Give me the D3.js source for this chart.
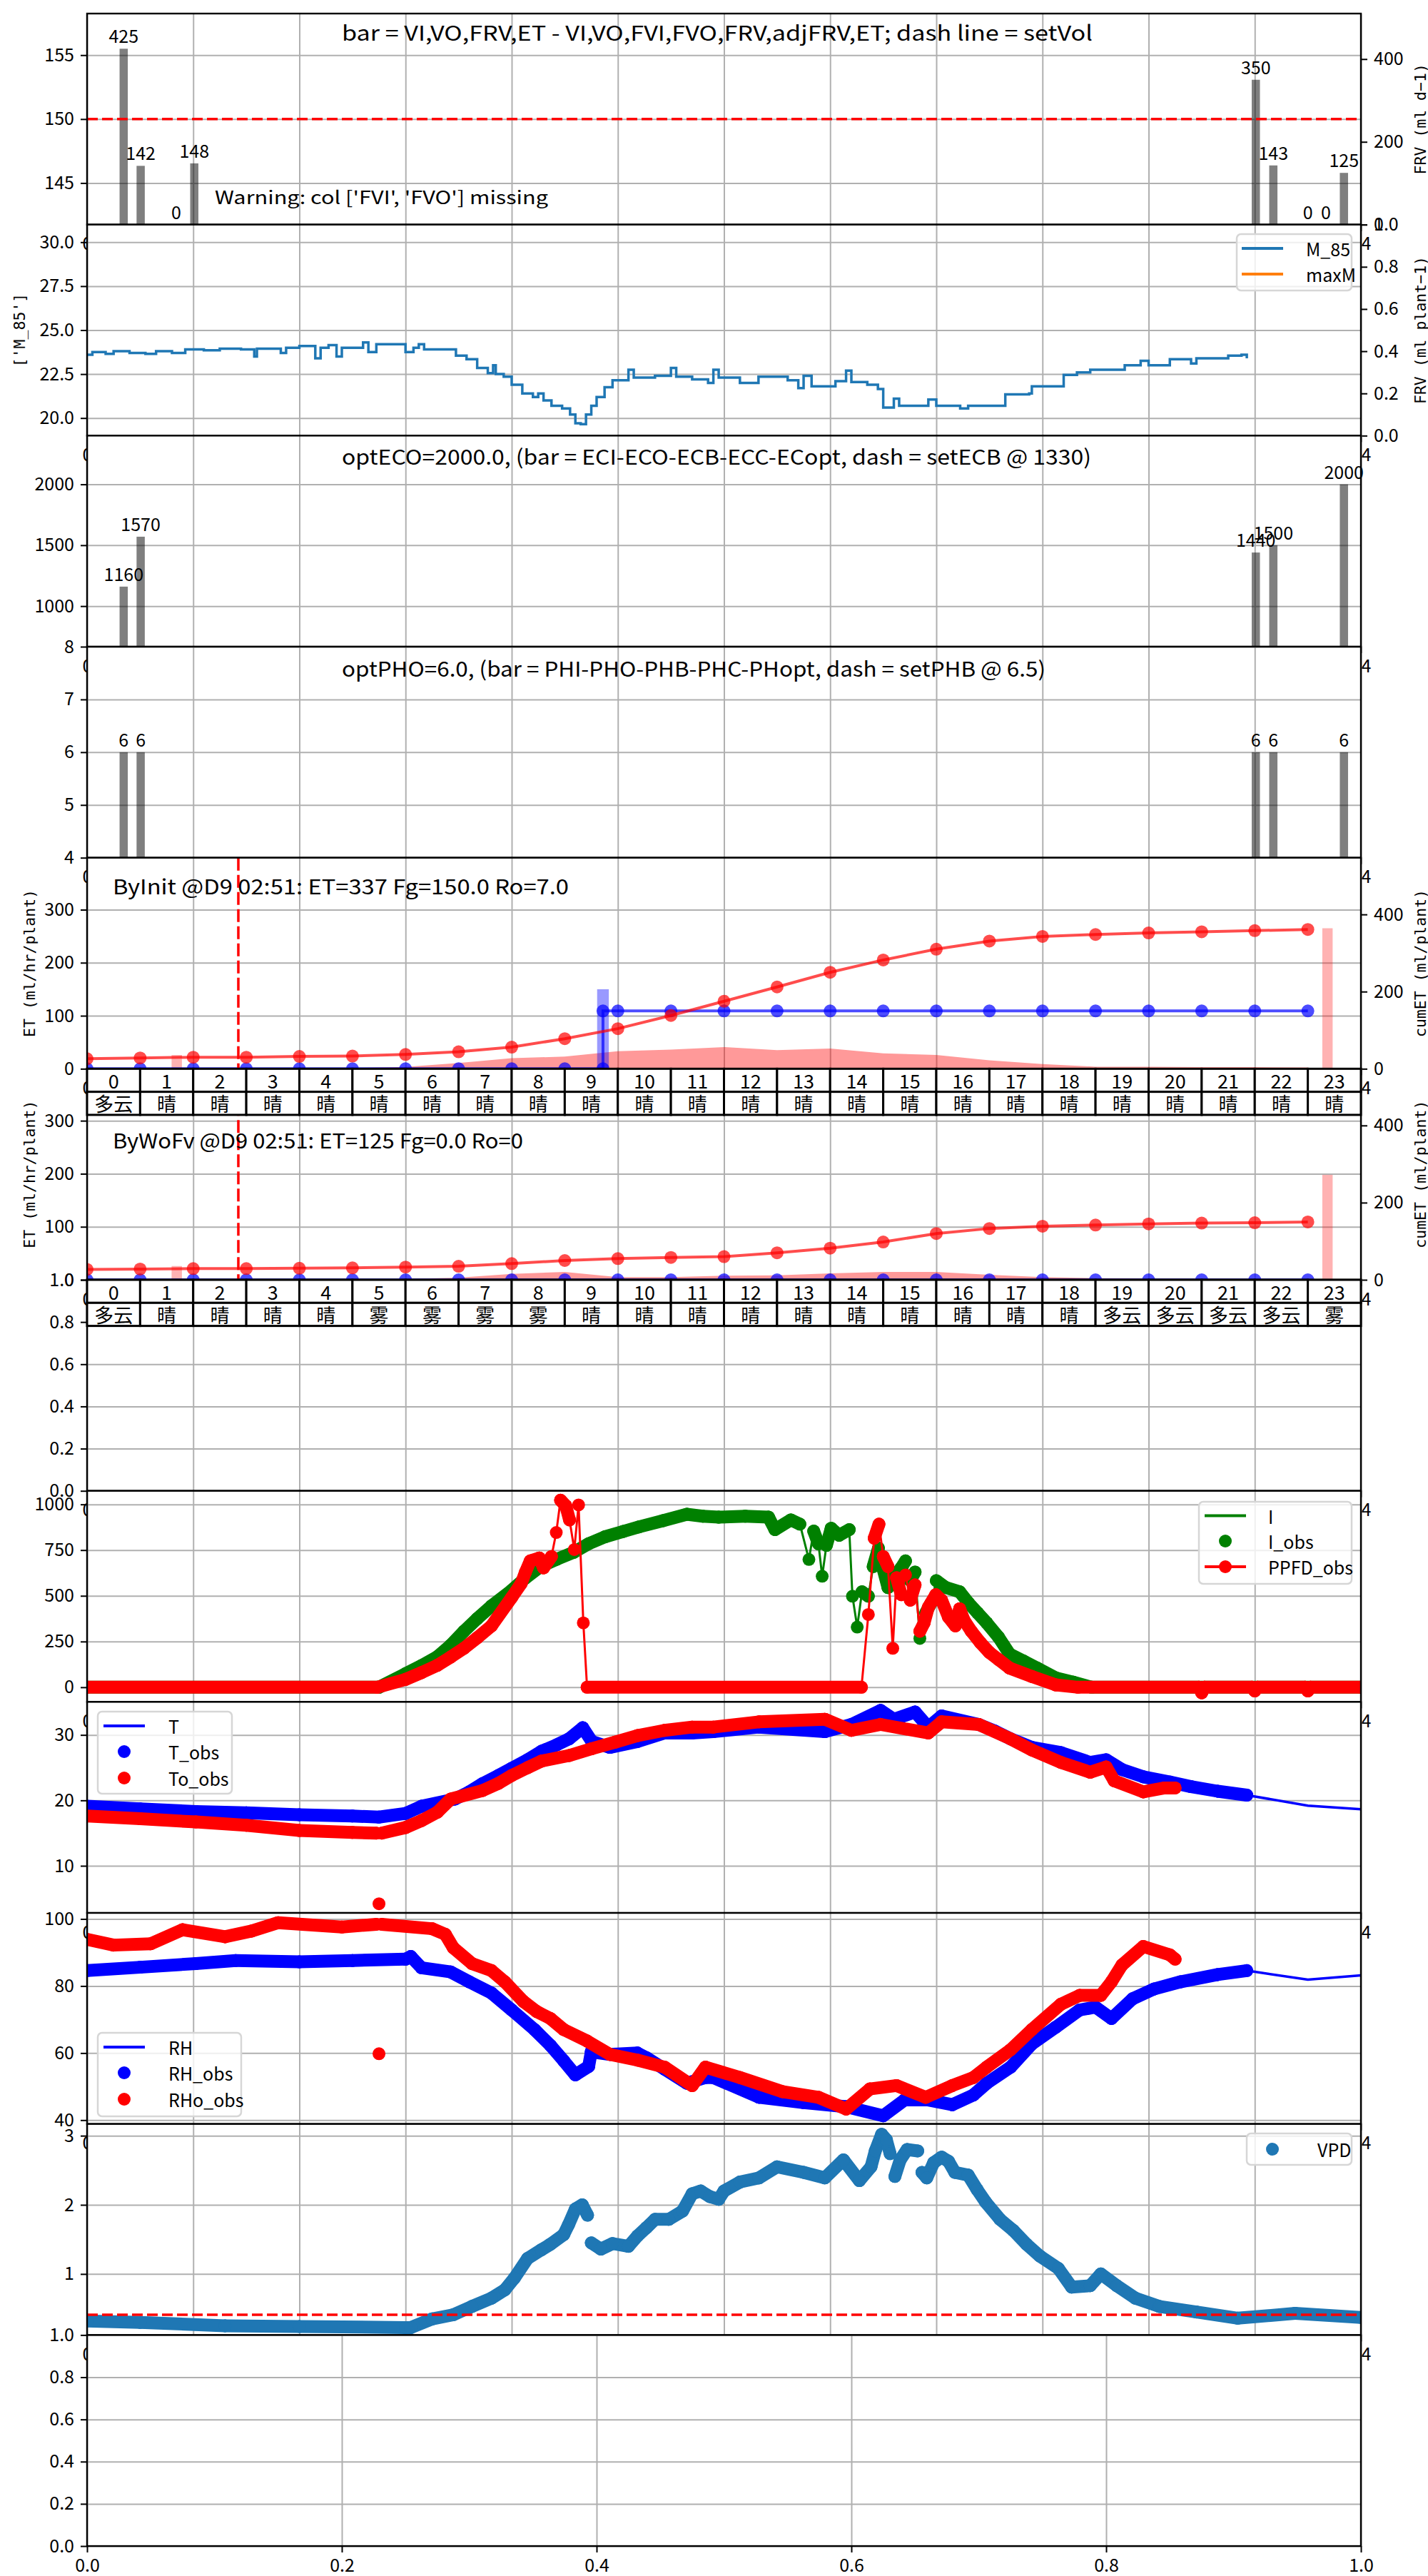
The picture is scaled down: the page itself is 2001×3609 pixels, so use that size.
<!DOCTYPE html>
<html>
<head>
<meta charset="utf-8">
<script src="https://cdn.jsdelivr.net/npm/d3@7"></script>
<style>
  body { margin: 0; background: #fff; }
</style>
</head>
<body>
<script>
// ---------- data ----------
const hourLabels = d3.range(24);

// panel 1 : FRV bars (right axis), setVol dash (left axis)
const frvT = [0.69, 1.01, 1.68, 2.02, 22.02, 22.35, 23.0, 23.34, 23.68];
const frvV = [425, 142, 0, 148, 350, 143, 0, 0, 125];
const setVol = 150;

// panel 2 : M_85
const m85 = [
  [0,23.6],[0.1,23.75],[0.35,23.65],[0.5,23.8],[0.8,23.7],[1.1,23.65],[1.3,23.8],[1.6,23.7],
  [1.85,23.9],[2.2,23.85],[2.5,23.95],[2.9,23.9],[3.15,23.5],[3.2,23.95],[3.6,23.95],[3.65,23.7],
  [3.75,24.0],[4.0,24.1],[4.3,23.4],[4.4,24.0],[4.55,24.15],[4.7,23.5],[4.8,24.0],[5.1,24.0],
  [5.2,24.3],[5.3,23.75],[5.45,24.2],[5.85,24.2],[6.0,23.75],[6.15,24.0],[6.25,24.2],[6.35,23.9],
  [6.9,23.9],[6.95,23.55],[7.15,23.35],[7.35,22.85],[7.55,22.55],[7.65,23.0],[7.7,22.5],[7.85,22.35],
  [8.0,21.9],[8.2,21.4],[8.4,21.2],[8.5,21.4],[8.6,21.0],[8.75,20.7],[8.95,20.55],[9.1,20.2],
  [9.2,19.7],[9.3,19.65],[9.4,20.2],[9.5,20.7],[9.6,21.2],[9.75,21.75],[9.9,22.15],[10.15,22.15],
  [10.2,22.75],[10.3,22.3],[10.7,22.4],[11.0,22.85],[11.1,22.35],[11.4,22.2],[11.7,22.0],[11.8,22.75],
  [11.9,22.3],[12.3,22.0],[12.65,22.35],[13.2,22.15],[13.4,21.7],[13.5,22.4],[13.65,21.8],[14.1,22.1],
  [14.3,22.7],[14.4,22.05],[14.7,21.9],[14.9,21.65],[15.0,20.6],[15.2,21.1],[15.3,20.7],[15.85,21.05],
  [16.0,20.7],[16.45,20.55],[16.6,20.7],[17.3,21.35],[17.75,21.4],[17.8,21.8],[18.4,22.45],[18.65,22.6],
  [18.9,22.75],[19.55,23.0],[19.85,23.25],[20.0,23.0],[20.4,23.35],[20.8,23.1],[20.9,23.4],[21.5,23.55],
  [21.75,23.6],[21.85,23.4]
];

// panels 3 and 4 : EC / pH bars
const ecoT = [0.69, 1.01, 22.02, 22.35, 23.68];
const ecoV = [1160, 1570, 1440, 1500, 2000];
const phoT = [0.69, 1.01, 22.02, 22.35, 23.68];
const phoV = [6, 6, 6, 6, 6];

// panels 5 and 6 : ET per hour (left), cumulative ET / irrigation (right)
const decisionHour = 2.85;   // 02:51
const initEtHr  = [0,0,0,0,0.5,1.3,3.6,11,20,23,33,36,41,35,38,29,26,16,9,4,4,3,3,2.4];
const initCumEt = [26,28,30,30,32,33,37,44,56,78,104,138,175,212,250,282,310,331,343,348,352,355,358,361];
const initCumIrr = [[0,0],[1,0],[2,0],[3,0],[4,0],[5,0],[6,0],[7,0],[8,0],[9,0],[9.72,0],[9.72,150],
  [10,150],[11,150],[12,150],[13,150],[14,150],[15,150],[16,150],[17,150],[18,150],[19,150],
  [20,150],[21,150],[22,150],[23,150]];
const initIrrT = [9.72], initIrrV = [150];
const etBarT = [1.69, 23.37];
const initEtBar = [26, 265];
const wofvEtHr  = [0,0,0,0,0,0,1.6,4,11,15,5,5,7.7,8.5,12,15,15,9.4,5,3.1,2.7,2.2,1.8,1.4];
const wofvCumEt = [27,28,29,29,30,31,33,35,42,50,55,58,60,70,82,98,120,133,139,142,145,147,148,150];
const wofvCumIrr = [0,0,0,0,0,0,0,0,0,0,0,0,0,0,0,0,0,0,0,0,0,0,0,0];
const wofvEtBar = [26, 198];
const initWeather = ["多云","晴","晴","晴","晴","晴","晴","晴","晴","晴","晴","晴",
                     "晴","晴","晴","晴","晴","晴","晴","晴","晴","晴","晴","晴"];
const wofvWeather = ["多云","晴","晴","晴","晴","雾","雾","雾","雾","晴","晴","晴",
                     "晴","晴","晴","晴","晴","晴","晴","多云","多云","多云","多云","雾"];

// panel 8 : light
const iObs = [
  [0,0],[5.5,0],[6.0,74],[6.3,118],[6.6,167],[6.85,230],[7.1,306],[7.35,375],[7.62,445],[8.0,530],
  [8.25,595],[8.54,660],[8.85,700],[9.17,738],[9.45,785],[9.76,823],[10.1,852],[10.4,877],[10.85,911],
  [11.3,946],[11.6,935],[11.9,930],[12.4,935],[12.84,930],[12.96,862],[13.26,915],[13.43,892],[13.6,699],
  [13.69,854],[13.78,784],[13.85,607],[13.93,776],[14.02,869],[14.17,831],[14.36,862],[14.42,498],
  [14.51,329],[14.6,522],[14.72,498],[14.81,660],[14.91,761],[15.0,645],[15.09,545],[15.23,614],
  [15.34,653],[15.42,691],[15.51,583],[15.6,630],[15.69,267],[15.8,406],[15.9,460],[16.0,583],
  [16.18,545],[16.44,522],[16.61,460],[16.78,406],[16.95,352],[17.17,275],[17.38,182],[17.64,144],
  [17.9,105],[18.25,51],[18.58,28],[18.93,0],[24,0]
];
const ppfdObs = [
  [0,0],[5.47,0],[6.0,43],[6.3,80],[6.6,120],[6.85,165],[7.1,213],[7.35,270],[7.62,336],[8.0,491],
  [8.18,568],[8.26,630],[8.35,691],[8.52,707],[8.6,653],[8.75,715],[8.84,846],[8.92,1023],[9.02,992],
  [9.09,915],[9.18,753],[9.26,997],[9.35,352],[9.42,0],[14.59,0],[14.72,398],[14.83,815],[14.92,892],
  [15.0,715],[15.09,660],[15.18,213],[15.25,599],[15.34,506],[15.42,614],[15.51,476],[15.6,560],
  [15.69,306],[15.77,352],[15.85,437],[15.99,506],[16.1,476],[16.23,383],[16.36,336],[16.44,429],
  [16.52,368],[16.66,306],[16.83,244],[17.0,190],[17.17,152],[17.38,105],[17.8,59],[18.25,13],
  [18.67,0],[20.95,0],[21.0,-30],[21.05,0],[21.95,0],[22.0,-20],[22.05,0],[22.95,0],[23.0,-20],
  [23.05,0],[24,0]
];

// panel 9 : temperature
const tObs = [
  [0,19.1],[1,18.7],[2.05,18.3],[3,18.1],[4,17.8],[5,17.6],[5.5,17.45],[6.0,18.0],[6.3,19.1],
  [6.93,20.2],[7.2,21.3],[7.45,22.55],[7.75,23.8],[8.0,24.9],[8.3,26.2],[8.56,27.5],[8.85,28.5],
  [9.08,29.4],[9.34,31.1],[9.51,29.0],[9.85,28.1],[10.37,29.0],[10.88,30.3],[11.4,30.3],[11.8,30.5],
  [12.66,31.2],[13.9,30.5],[14.4,31.6],[14.95,33.75],[15.2,32.4],[15.6,33.5],[15.85,31.2],[16.1,32.9],
  [16.8,31.6],[17.1,30.6],[17.4,29.4],[17.8,28.1],[18.35,27.3],[18.9,25.8],[19.2,26.2],[19.5,24.7],
  [19.9,23.6],[20.4,22.8],[20.8,22.1],[21.3,21.4],[21.85,20.8]
];
const tTail = [[21.85,20.8],[23,19.2],[24,18.65]];
const toObs = [
  [0,17.6],[1,17.2],[2.05,16.7],[3,16.2],[4,15.4],[5,15.1],[5.45,15.0],[5.5,4.2],[5.55,15.0],
  [6.0,15.85],[6.3,16.9],[6.6,18.2],[6.85,20.2],[7.45,21.5],[7.75,22.6],[8.0,23.8],[8.3,25.0],
  [8.56,26.0],[9.08,26.85],[9.51,27.9],[9.95,28.9],[10.37,29.9],[10.88,30.7],[11.4,31.2],[11.8,31.2],
  [12.66,32.0],[13.9,32.4],[14.4,30.7],[14.95,31.6],[15.85,30.3],[16.1,32.0],[16.8,31.6],[17.4,29.4],
  [17.8,27.7],[18.35,25.8],[18.9,24.3],[19.2,25.1],[19.35,23.0],[19.9,21.3],[20.3,21.9],[20.5,21.9]
];

// panel 10 : relative humidity
const rhObs = [
  [0,84.6],[1,85.6],[2.05,86.7],[2.8,87.6],[4,87.2],[5,87.6],[6.0,88.0],[6.1,88.8],[6.3,85.45],
  [6.85,84.2],[7.2,81.25],[7.62,77.9],[8.0,72.85],[8.43,67.0],[8.73,62.3],[8.98,57.7],[9.2,53.5],
  [9.45,56.0],[9.5,60.4],[9.85,59.6],[10.37,60],[10.54,58.6],[10.88,55.2],[11.3,51.0],[11.65,52.7],
  [11.8,52.7],[12.66,46.8],[13.5,45.2],[14.3,44],[15.0,41.3],[15.4,46],[15.85,46],[16.3,44.6],
  [16.7,47.5],[16.95,51],[17.4,55.8],[17.8,62.7],[18.25,67.7],[18.7,72.85],[19.0,73.7],[19.3,70.3],
  [19.7,76.2],[20.1,79.1],[20.6,81.25],[21.3,83.4],[21.85,84.6]
];
const rhTail = [[21.85,84.6],[23,81.9],[24,83.2]];
const rhoObs = [
  [0,93.9],[0.5,92.2],[1.2,92.6],[1.8,96.8],[2.6,94.7],[3.1,96.4],[3.6,98.9],[4.8,97.6],[5.45,98.4],
  [5.5,59.8],[5.55,98.4],[6.5,97.1],[6.75,95.4],[6.9,91.4],[7.25,86.7],[7.62,84.6],[7.87,81.25],
  [8.22,75.4],[8.47,72.4],[8.73,70.3],[8.98,67],[9.42,63.6],[9.85,59.6],[10.37,57.9],[10.88,55.8],
  [11.4,50.3],[11.65,55.8],[12.3,52.7],[13.1,48.5],[13.78,46.8],[14.3,43.3],[14.75,49.3],[15.25,50.3],
  [15.8,46.8],[16.3,50.3],[16.7,52.7],[16.95,55.8],[17.4,61],[17.8,67],[18.35,74.6],[18.7,77.2],
  [19.1,77.2],[19.3,81.25],[19.5,86.3],[19.9,91.8],[20.4,89.3],[20.5,88]
];

// panel 11 : VPD
const vpdObs = [
  [0,0.32],[1,0.3],[2.6,0.25],[4,0.24],[6,0.225],[6.1,0.225],[6.5,0.35],[6.9,0.41],[7.25,0.53],
  [7.62,0.65],[7.87,0.77],[8.05,0.94],[8.3,1.225],[8.56,1.35],[8.73,1.43],[8.98,1.57],[9.07,1.71],
  [9.2,1.94],[9.33,2.0],[9.43,1.85],[9.5,1.45],[9.68,1.36],[9.9,1.44],[10.2,1.40],[10.37,1.55],
  [10.54,1.67],[10.7,1.79],[10.96,1.79],[11.22,1.91],[11.4,2.16],[11.56,2.2],[11.73,2.12],[11.9,2.08],
  [12.0,2.2],[12.3,2.33],[12.66,2.39],[13.0,2.55],[13.5,2.47],[13.9,2.39],[14.25,2.65],[14.55,2.35],
  [14.77,2.55],[14.85,2.78],[14.97,3.02],[15.06,2.94],[15.13,2.74],[15.22,2.41],[15.32,2.65],
  [15.45,2.80],[15.65,2.78],[15.73,2.47],[15.82,2.39],[15.95,2.61],[16.1,2.69],[16.23,2.63],
  [16.35,2.47],[16.6,2.43],[16.77,2.22],[16.93,2.04],[17.2,1.79],[17.45,1.63],[17.7,1.43],[17.95,1.26],
  [18.3,1.08],[18.55,0.81],[18.9,0.83],[19.1,1.0],[19.4,0.83],[19.75,0.65],[20.2,0.53],[20.9,0.45],
  [21.68,0.36],[22.76,0.43],[24,0.37]
];
const vpdLimit = 0.41;

// ---------- layout ----------
const W = 2001, H = 3609;
const L = 122, R = 1907, T0 = 19, PH = 295.67;
const FONT = "'Noto Sans CJK JP', 'Noto Sans CJK SC', sans-serif";
const LFONT = "'DejaVu Sans Mono', monospace";

const svg = d3.select("body").append("svg").attr("width", W).attr("height", H);
svg.append("rect").attr("width", W).attr("height", H).attr("fill", "#fff");
const defs = svg.append("defs");

const xH = d3.scaleLinear().domain([0, 24]).range([L, R]);
const x01 = d3.scaleLinear().domain([0, 1]).range([L, R]);

function styleGrid(g) {
  g.select(".domain").remove();
  g.selectAll("line").attr("stroke", "#b0b0b0").attr("stroke-width", 2);
}
function styleAxis(g) {
  g.select(".domain").remove();
  g.attr("font-size", 25).attr("font-family", FONT);
  g.selectAll("line").attr("stroke", "#000").attr("stroke-width", 2);
  g.selectAll("text").attr("fill", "#000");
}

function makePanel(i, dom, ticks, fmt) {
  const top = T0 + i * PH, bot = top + PH;
  const y = d3.scaleLinear().domain(dom).range([bot, top]);
  const g = svg.append("g");
  g.append("rect").attr("x", L).attr("y", top).attr("width", R - L).attr("height", PH).attr("fill", "#fff");
  defs.append("clipPath").attr("id", "c" + i).append("rect")
    .attr("x", L).attr("y", top).attr("width", R - L).attr("height", PH);
  const last = i === 11;
  const xs = last ? x01 : xH;
  const xt = last ? [0, 0.2, 0.4, 0.6, 0.8, 1.0] : d3.range(0, 25, 2);
  g.append("g").attr("transform", `translate(0,${bot})`)
    .call(d3.axisBottom(xs).tickValues(xt).tickSize(-PH).tickFormat(""))
    .call(styleGrid);
  g.append("g").attr("transform", `translate(${L},0)`)
    .call(d3.axisLeft(y).tickValues(ticks).tickSize(-(R - L)).tickFormat(""))
    .call(styleGrid);
  const plot = g.append("g").attr("clip-path", `url(#c${i})`);
  const over = g.append("g");
  const p = { i, top, bot, y, g, plot, over, xs, xt, last };
  over.append("rect").attr("x", L).attr("y", top).attr("width", R - L).attr("height", PH)
    .attr("fill", "none").attr("stroke", "#000").attr("stroke-width", 2.4);
  over.append("g").attr("transform", `translate(${L},0)`)
    .call(d3.axisLeft(y).tickValues(ticks).tickFormat(d3.format(fmt)).tickSize(9).tickPadding(9))
    .call(styleAxis);
  over.append("g").attr("transform", `translate(0,${bot})`)
    .call(d3.axisBottom(xs).tickValues(xt).tickFormat(d3.format(last ? ".1f" : "d")).tickSize(9).tickPadding(9))
    .call(styleAxis);
  return p;
}

function rightAxis(p, dom, ticks, fmt) {
  const yR = d3.scaleLinear().domain(dom).range([p.bot, p.top]);
  p.over.append("g").attr("transform", `translate(${R},0)`)
    .call(d3.axisRight(yR).tickValues(ticks).tickFormat(d3.format(fmt)).tickSize(9).tickPadding(9))
    .call(styleAxis);
  return yR;
}

function axisLabel(p, text, x) {
  const cy = (p.top + p.bot) / 2;
  p.over.append("text").attr("transform", `translate(${x},${cy}) rotate(-90)`)
    .attr("text-anchor", "middle").attr("dominant-baseline", "central")
    .attr("font-family", LFONT).attr("font-size", 21.5).text(text);
}

function title(p, text, x, yb, len, size) {
  p.over.append("text").attr("x", x).attr("y", yb).attr("font-family", FONT)
    .attr("font-size", size).attr("textLength", len).attr("lengthAdjust", "spacingAndGlyphs").text(text);
}

function bars(p, y, t, v, w, color, op, labels) {
  const bw = xH(w) - xH(0);
  p.plot.append("g").selectAll("rect").data(t.map((d, k) => [d, v[k]])).join("rect")
    .attr("x", d => xH(d[0]) - bw / 2).attr("width", bw)
    .attr("y", d => y(d[1])).attr("height", d => Math.max(0, y(0) - y(d[1])))
    .attr("fill", color).attr("fill-opacity", op);
  if (labels) {
    p.over.append("g").selectAll("text").data(t.map((d, k) => [d, v[k]])).join("text")
      .attr("x", d => xH(d[0])).attr("y", d => Math.min(y(d[1]), p.bot) - 8)
      .attr("text-anchor", "middle").attr("font-family", FONT).attr("font-size", 25)
      .text(d => d3.format("d")(d[1]));
  }
}

function drawObs(p, pts, color) {
  const r = 9, y = p.y;
  const P = pts.map(d => [xH(d[0]), y(d[1])]);
  const band = p.plot.append("g").attr("stroke", color).attr("stroke-width", 2 * r).attr("stroke-linecap", "round");
  for (let k = 1; k < P.length; k++) {
    const dx = Math.abs(P[k][0] - P[k - 1][0]), dy = Math.abs(P[k][1] - P[k - 1][1]);
    if (dy <= 2 * r + 8 || dy <= 1.5 * dx) {
      band.append("line").attr("x1", P[k - 1][0]).attr("y1", P[k - 1][1]).attr("x2", P[k][0]).attr("y2", P[k][1]);
    }
  }
  p.plot.append("g").attr("fill", color).selectAll("circle").data(P).join("circle")
    .attr("cx", d => d[0]).attr("cy", d => d[1]).attr("r", r);
}

function drawLine(p, y, pts, color, width, curve) {
  const line = d3.line().x(d => xH(d[0])).y(d => y(d[1])).curve(curve || d3.curveLinear);
  return p.plot.append("path").datum(pts).attr("d", line).attr("fill", "none")
    .attr("stroke", color).attr("stroke-width", width);
}

function hLine(p, y, v, color) {
  p.plot.append("line").attr("x1", L).attr("x2", R).attr("y1", y(v)).attr("y2", y(v))
    .attr("stroke", color).attr("stroke-width", 3.5).attr("stroke-dasharray", "15,6");
}
function vLine(p, h, color) {
  p.plot.append("line").attr("x1", xH(h)).attr("x2", xH(h)).attr("y1", p.top).attr("y2", p.bot)
    .attr("stroke", color).attr("stroke-width", 3.5).attr("stroke-dasharray", "18,6");
}

function legend(p, box, rows, hx, tx, items) {
  const g = p.over.append("g");
  g.append("rect").attr("x", box[0]).attr("y", box[1]).attr("width", box[2]).attr("height", box[3])
    .attr("rx", 6).attr("fill", "#fff").attr("fill-opacity", 0.8).attr("stroke", "#d6d6d6").attr("stroke-width", 2.5);
  items.forEach((it, k) => {
    const yy = rows[k];
    if (it.kind !== "dot") g.append("line").attr("x1", hx - 29).attr("x2", hx + 29).attr("y1", yy).attr("y2", yy)
      .attr("stroke", it.color).attr("stroke-width", 4);
    if (it.kind !== "line") g.append("circle").attr("cx", hx).attr("cy", yy).attr("r", 9).attr("fill", it.color);
    g.append("text").attr("x", tx).attr("y", yy).attr("dominant-baseline", "central")
      .attr("font-family", FONT).attr("font-size", 25).text(it.label);
  });
}

function etPanel(p, etHr, cumEt, cumIrr, etBar, irrT, irrV) {
  const y = p.y;
  const yR = rightAxis(p, [0, 547], [0, 200, 400], "d");
  axisLabel(p, "ET (ml/hr/plant)", 41.5);
  axisLabel(p, "cumET (ml/plant)", 1990);
  const area = d3.area().x(d => xH(d[0])).y0(y(0)).y1(d => y(d[1]));
  p.plot.append("path").datum(hourLabels.map((h, k) => [h, etHr[k]])).attr("d", area)
    .attr("fill", "red").attr("fill-opacity", 0.4);
  bars(p, y, etBarT, etBar, 0.195, "red", 0.3, false);
  if (irrT) bars(p, y, irrT, irrV, 0.22, "blue", 0.4, false);
  // cumulative irrigation
  drawLine(p, yR, cumIrr, "blue", 4).attr("stroke-opacity", 0.7);
  p.plot.append("g").selectAll("circle").data(cumIrr).join("circle")
    .attr("cx", d => xH(d[0])).attr("cy", d => yR(d[1])).attr("r", 9).attr("fill", "blue").attr("fill-opacity", 0.7);
  // cumulative ET
  const ce = hourLabels.map((h, k) => [h, cumEt[k]]);
  drawLine(p, yR, ce, "red", 4).attr("stroke-opacity", 0.7);
  p.plot.append("g").selectAll("circle").data(ce).join("circle")
    .attr("cx", d => xH(d[0])).attr("cy", d => yR(d[1])).attr("r", 9).attr("fill", "red").attr("fill-opacity", 0.7);
  vLine(p, decisionHour, "red");
}

function table(p, weather) {
  const rh = 32.3;
  const g = svg.append("g").attr("font-family", FONT).attr("font-size", 27);
  hourLabels.forEach((h, k) => {
    const x0 = xH(h), w = xH(h + 1) - xH(h);
    [String(h), weather[k]].forEach((txt, r) => {
      const y0 = p.bot + r * rh;
      g.append("rect").attr("x", x0).attr("y", y0).attr("width", w).attr("height", rh)
        .attr("fill", "#fff").attr("stroke", "#000").attr("stroke-width", 3);
      g.append("text").attr("x", x0 + w / 2).attr("y", y0 + rh / 2).attr("text-anchor", "middle")
        .attr("dominant-baseline", "central").text(txt);
    });
  });
}

// ---------- panel 1 ----------
const p1 = makePanel(0, [141.75, 158.25], [145, 150, 155], "d");
const y1R = rightAxis(p1, [0, 510], [0, 200, 400], "d");
axisLabel(p1, "FRV (ml d\u22121)", 1990);
bars(p1, y1R, frvT, frvV, 0.155, "#000", 0.5, true);
hLine(p1, p1.y, setVol, "red");
title(p1, "bar = VI,VO,FRV,ET - VI,VO,FVI,FVO,FRV,adjFRV,ET; dash line = setVol", 479, 57, 1052, 29);
title(p1, "Warning: col ['FVI', 'FVO'] missing", 301, 286, 467, 25);

// ---------- panel 2 ----------
const p2 = makePanel(1, [19, 31], [20, 22.5, 25, 27.5, 30], ".1f");
rightAxis(p2, [0, 1], [0, 0.2, 0.4, 0.6, 0.8, 1.0], ".1f");
axisLabel(p2, "['M_85']", 27);
axisLabel(p2, "FRV (ml plant\u22121)", 1990);
drawLine(p2, p2.y, m85, "#1f77b4", 3.5, d3.curveStepAfter);
legend(p2, [1733, 328, 161, 79], [348, 384], 1769, 1830,
  [{ label: "M_85", kind: "line", color: "#1f77b4" }, { label: "maxM", kind: "line", color: "#ff7f0e" }]);

// ---------- panel 3 ----------
const p3 = makePanel(2, [666.7, 2400], [1000, 1500, 2000], "d");
bars(p3, p3.y, ecoT, ecoV, 0.155, "#000", 0.5, true);
title(p3, "optECO=2000.0, (bar = ECI-ECO-ECB-ECC-ECopt, dash = setECB @ 1330)", 479, 651, 1050, 29);

// ---------- panel 4 ----------
const p4 = makePanel(3, [4, 8], [4, 5, 6, 7, 8], "d");
bars(p4, p4.y, phoT, phoV, 0.155, "#000", 0.5, true);
title(p4, "optPHO=6.0, (bar = PHI-PHO-PHB-PHC-PHopt, dash = setPHB @ 6.5)", 479, 948, 986, 29);

// ---------- panel 5 ----------
const p5 = makePanel(4, [0, 398], [0, 100, 200, 300], "d");
etPanel(p5, initEtHr, initCumEt, initCumIrr, initEtBar, initIrrT, initIrrV);
title(p5, "ByInit @D9 02:51: ET=337 Fg=150.0 Ro=7.0", 158, 1253, 639, 29);

// ---------- panel 6 ----------
const p6 = makePanel(5, [0, 398], [0, 100, 200, 300], "d");
etPanel(p6, wofvEtHr, wofvCumEt, hourLabels.map((h, k) => [h, wofvCumIrr[k]]), wofvEtBar, null, null);
title(p6, "ByWoFv @D9 02:51: ET=125 Fg=0.0 Ro=0", 158, 1609, 575, 29);

// ---------- panel 7 (empty) ----------
makePanel(6, [0, 1], [0, 0.2, 0.4, 0.6, 0.8, 1.0], ".1f");

// ---------- panel 8 : light ----------
const p8 = makePanel(7, [-80, 1074], [0, 250, 500, 750, 1000], "d");
drawLine(p8, p8.y, iObs, "green", 3);
drawObs(p8, iObs, "green");
drawLine(p8, p8.y, ppfdObs, "red", 3);
drawObs(p8, ppfdObs, "red");
legend(p8, [1680, 2104, 214, 115], [2123.5, 2159, 2195], 1717, 1777,
  [{ label: "I", kind: "line", color: "green" }, { label: "I_obs", kind: "dot", color: "green" },
   { label: "PPFD_obs", kind: "linedot", color: "red" }]);

// ---------- panel 9 : temperature ----------
const p9 = makePanel(8, [2.8, 35.05], [10, 20, 30], "d");
drawLine(p9, p9.y, tObs.concat(tTail.slice(1)), "blue", 3.5);
drawObs(p9, tObs, "blue");
drawObs(p9, toObs, "red");
legend(p9, [137, 2398, 188, 115], [2418, 2454, 2491], 174, 236,
  [{ label: "T", kind: "line", color: "blue" }, { label: "T_obs", kind: "dot", color: "blue" },
   { label: "To_obs", kind: "dot", color: "red" }]);

// ---------- panel 10 : RH ----------
const p10 = makePanel(9, [38.85, 101.8], [40, 60, 80, 100], "d");
drawLine(p10, p10.y, rhObs.concat(rhTail.slice(1)), "blue", 3.5);
drawObs(p10, rhObs, "blue");
drawObs(p10, rhoObs, "red");
legend(p10, [137, 2848, 201, 117], [2868, 2904, 2941], 174, 236,
  [{ label: "RH", kind: "line", color: "blue" }, { label: "RH_obs", kind: "dot", color: "blue" },
   { label: "RHo_obs", kind: "dot", color: "red" }]);

// ---------- panel 11 : VPD ----------
const p11 = makePanel(10, [0.117, 3.17], [1, 2, 3], "d");
drawObs(p11, vpdObs, "#1f77b4");
hLine(p11, p11.y, vpdLimit, "red");
legend(p11, [1747, 2989, 147, 44], [3011], 1783, 1846, [{ label: "VPD", kind: "dot", color: "#1f77b4" }]);

// ---------- panel 12 (empty, 0..1 axes) ----------
makePanel(11, [0, 1], [0, 0.2, 0.4, 0.6, 0.8, 1.0], ".1f");

// weather tables drawn over the following panels
table(p5, initWeather);
table(p6, wofvWeather);
</script>
</body>
</html>
